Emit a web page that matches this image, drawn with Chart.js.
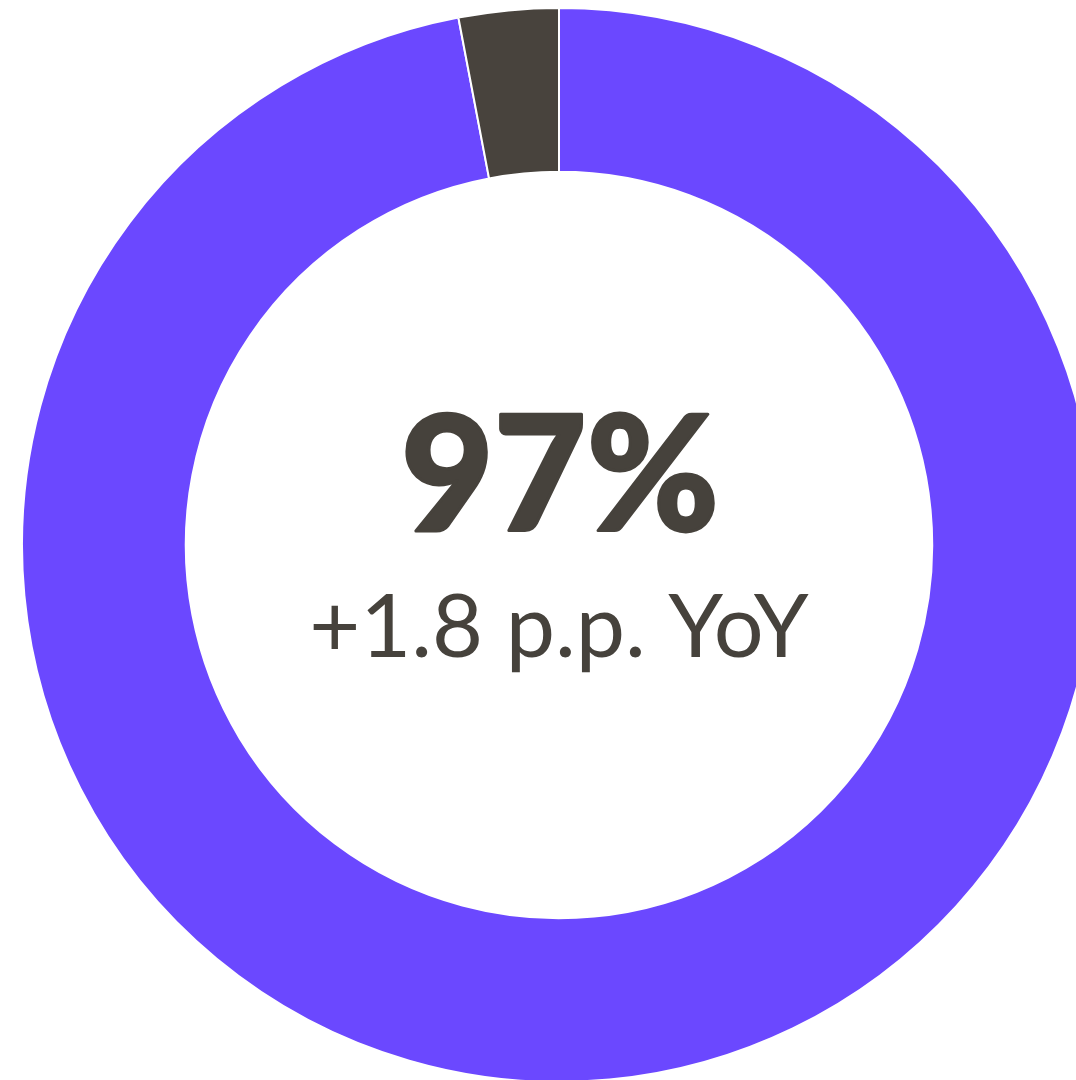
<!DOCTYPE html>
<html>
<head>
	<title>Share</title>
	<script src="https://cdn.jsdelivr.net/npm/chart.js"></script>
	<style>
		html, body { margin: 0; padding: 0; background: #fff; overflow: hidden; width: 1076px; height: 1080px; }
		.chart-box { position: absolute; left: 0; top: 7px; width: 1118px; height: 1076px; }
	</style>
</head>
<body>
	<div class="chart-box">
		<canvas id="myChart"></canvas>
	</div>
</body>

<script>
    const labels = ['Yes', 'No'];
    const shares = [97, 3];
    const change = 1.8;

    // big number + YoY line in the hole
    const centerText = {
      id: 'centerText',
      afterDraw(chart) {
        const c = chart.ctx;
        const arc = chart.getDatasetMeta(0).data[0];
        c.save();
        c.fillStyle = '#46423c';
        c.strokeStyle = '#46423c';
        c.lineJoin = 'round';
        c.textAlign = 'center';
        c.textBaseline = 'alphabetic';
        c.font = '900 160px Lato';
        c.lineWidth = 3;
        c.fillText(shares[0] + '%', arc.x + 1, 524);
        c.strokeText(shares[0] + '%', arc.x + 1, 524);
        c.font = '400 88px Lato';
        c.fillText('+' + change + ' p.p. YoY', arc.x, 650);
        c.restore();
      }
    };

    const ctx = document.getElementById('myChart');
    new Chart(ctx, {
      type: 'doughnut',
      data: {
        labels: labels,
        datasets: [{
          data: shares,
          backgroundColor: ['#6b48ff', '#48433d'],
          borderColor: '#ffffff',
          borderWidth: 2
        }]
      },
      options: {
        responsive: true,
        maintainAspectRatio: false,
        animation: false,
        cutout: '69.5%',
        plugins: {
          legend: { display: false },
          tooltip: { enabled: false }
        }
      },
      plugins: [centerText]
    });
</script>
</html>
